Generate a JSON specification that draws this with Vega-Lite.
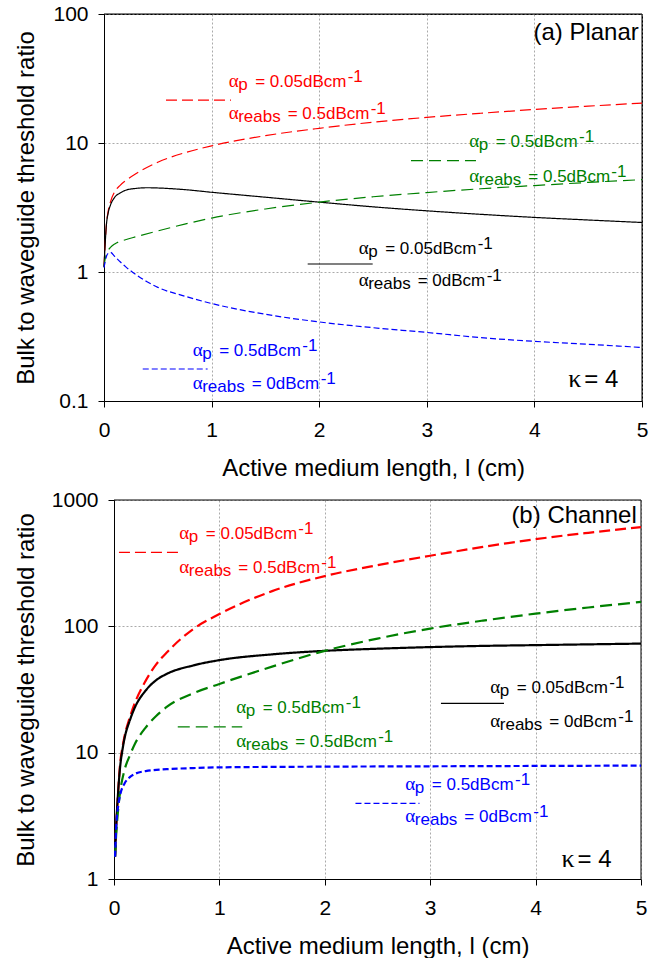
{
  "$schema": "https://vega.github.io/schema/vega-lite/v6.json",
  "background": "white",
  "padding": {"left": 13, "top": 2, "right": 28, "bottom": 0},
  "spacing": 8,
  "config": {
    "view": {"stroke": "black", "strokeWidth": 1},
    "font": "Liberation Sans",
    "axis": {
      "labelFont": "Liberation Sans", "labelFontSize": 21, "labelColor": "black",
      "titleFont": "Liberation Sans", "titleFontSize": 24, "titleFontWeight": "normal", "titleColor": "black",
      "domainColor": "black", "tickColor": "black", "tickSize": 6,
      "gridColor": "#aaaaaa", "gridDash": [2, 2], "gridWidth": 1
    },
    "axisX": {"labelPadding": 12, "titlePadding": 16, "labelFlush": false},
    "axisY": {"labelPadding": 10}
  },
  "datasets": {
    "curves": [
      {"p":"a","s":"red","x":0,"y":1.1},{"p":"a","s":"red","x":0.01,"y":1.6},{"p":"a","s":"red","x":0.02,"y":2.2},{"p":"a","s":"red","x":0.04,"y":3.0},{"p":"a","s":"red","x":0.06,"y":3.5},{"p":"a","s":"red","x":0.1,"y":4.2},{"p":"a","s":"red","x":0.15,"y":4.7},{"p":"a","s":"red","x":0.2,"y":5.1},{"p":"a","s":"red","x":0.3,"y":5.8},{"p":"a","s":"red","x":0.5,"y":7.1},{"p":"a","s":"red","x":0.75,"y":8.4},{"p":"a","s":"red","x":1,"y":9.5},{"p":"a","s":"red","x":1.5,"y":11.4},{"p":"a","s":"red","x":2,"y":13.0},{"p":"a","s":"red","x":2.5,"y":14.5},{"p":"a","s":"red","x":3,"y":15.8},{"p":"a","s":"red","x":3.5,"y":17.0},{"p":"a","s":"red","x":4,"y":18.2},{"p":"a","s":"red","x":4.5,"y":19.3},{"p":"a","s":"red","x":5,"y":20.4},
      {"p":"a","s":"black","x":0,"y":1.1},{"p":"a","s":"black","x":0.01,"y":1.6},{"p":"a","s":"black","x":0.02,"y":2.2},{"p":"a","s":"black","x":0.04,"y":2.9},{"p":"a","s":"black","x":0.06,"y":3.3},{"p":"a","s":"black","x":0.1,"y":3.8},{"p":"a","s":"black","x":0.15,"y":4.1},{"p":"a","s":"black","x":0.2,"y":4.3},{"p":"a","s":"black","x":0.3,"y":4.45},{"p":"a","s":"black","x":0.4,"y":4.5},{"p":"a","s":"black","x":0.5,"y":4.48},{"p":"a","s":"black","x":0.75,"y":4.35},{"p":"a","s":"black","x":1,"y":4.15},{"p":"a","s":"black","x":1.5,"y":3.8},{"p":"a","s":"black","x":2,"y":3.48},{"p":"a","s":"black","x":2.5,"y":3.2},{"p":"a","s":"black","x":3,"y":2.98},{"p":"a","s":"black","x":3.5,"y":2.8},{"p":"a","s":"black","x":4,"y":2.65},{"p":"a","s":"black","x":4.5,"y":2.53},{"p":"a","s":"black","x":5,"y":2.42},
      {"p":"a","s":"green","x":0,"y":1.1},{"p":"a","s":"green","x":0.01,"y":1.25},{"p":"a","s":"green","x":0.02,"y":1.35},{"p":"a","s":"green","x":0.04,"y":1.48},{"p":"a","s":"green","x":0.06,"y":1.55},{"p":"a","s":"green","x":0.1,"y":1.65},{"p":"a","s":"green","x":0.2,"y":1.78},{"p":"a","s":"green","x":0.3,"y":1.88},{"p":"a","s":"green","x":0.5,"y":2.08},{"p":"a","s":"green","x":0.75,"y":2.35},{"p":"a","s":"green","x":1,"y":2.62},{"p":"a","s":"green","x":1.5,"y":3.08},{"p":"a","s":"green","x":2,"y":3.48},{"p":"a","s":"green","x":2.5,"y":3.83},{"p":"a","s":"green","x":3,"y":4.13},{"p":"a","s":"green","x":3.5,"y":4.42},{"p":"a","s":"green","x":4,"y":4.68},{"p":"a","s":"green","x":4.5,"y":4.95},{"p":"a","s":"green","x":5,"y":5.2},
      {"p":"a","s":"blue","x":0,"y":1.08},{"p":"a","s":"blue","x":0.02,"y":1.3},{"p":"a","s":"blue","x":0.04,"y":1.4},{"p":"a","s":"blue","x":0.06,"y":1.42},{"p":"a","s":"blue","x":0.1,"y":1.32},{"p":"a","s":"blue","x":0.15,"y":1.2},{"p":"a","s":"blue","x":0.2,"y":1.1},{"p":"a","s":"blue","x":0.3,"y":0.95},{"p":"a","s":"blue","x":0.4,"y":0.84},{"p":"a","s":"blue","x":0.5,"y":0.76},{"p":"a","s":"blue","x":0.75,"y":0.65},{"p":"a","s":"blue","x":1,"y":0.57},{"p":"a","s":"blue","x":1.5,"y":0.47},{"p":"a","s":"blue","x":2,"y":0.41},{"p":"a","s":"blue","x":2.5,"y":0.37},{"p":"a","s":"blue","x":3,"y":0.34},{"p":"a","s":"blue","x":3.5,"y":0.31},{"p":"a","s":"blue","x":4,"y":0.29},{"p":"a","s":"blue","x":4.5,"y":0.275},{"p":"a","s":"blue","x":5,"y":0.26},
      {"p":"b","s":"red","x":0.01,"y":1.5},{"p":"b","s":"red","x":0.02,"y":2.5},{"p":"b","s":"red","x":0.04,"y":5},{"p":"b","s":"red","x":0.06,"y":8.5},{"p":"b","s":"red","x":0.08,"y":11},{"p":"b","s":"red","x":0.1,"y":13.5},{"p":"b","s":"red","x":0.15,"y":19},{"p":"b","s":"red","x":0.2,"y":25},{"p":"b","s":"red","x":0.3,"y":37},{"p":"b","s":"red","x":0.4,"y":50},{"p":"b","s":"red","x":0.5,"y":62},{"p":"b","s":"red","x":0.75,"y":95},{"p":"b","s":"red","x":1,"y":125},{"p":"b","s":"red","x":1.5,"y":190},{"p":"b","s":"red","x":2,"y":250},{"p":"b","s":"red","x":2.5,"y":305},{"p":"b","s":"red","x":3,"y":362},{"p":"b","s":"red","x":3.5,"y":425},{"p":"b","s":"red","x":4,"y":490},{"p":"b","s":"red","x":4.5,"y":550},{"p":"b","s":"red","x":5,"y":610},
      {"p":"b","s":"black","x":0.01,"y":1.5},{"p":"b","s":"black","x":0.02,"y":2.5},{"p":"b","s":"black","x":0.04,"y":5},{"p":"b","s":"black","x":0.06,"y":8},{"p":"b","s":"black","x":0.08,"y":10.5},{"p":"b","s":"black","x":0.1,"y":13},{"p":"b","s":"black","x":0.15,"y":18},{"p":"b","s":"black","x":0.2,"y":23},{"p":"b","s":"black","x":0.3,"y":31},{"p":"b","s":"black","x":0.4,"y":37.5},{"p":"b","s":"black","x":0.5,"y":42},{"p":"b","s":"black","x":0.75,"y":49},{"p":"b","s":"black","x":1,"y":54},{"p":"b","s":"black","x":1.5,"y":60},{"p":"b","s":"black","x":2,"y":64},{"p":"b","s":"black","x":2.5,"y":66.5},{"p":"b","s":"black","x":3,"y":68.5},{"p":"b","s":"black","x":3.5,"y":70},{"p":"b","s":"black","x":4,"y":71},{"p":"b","s":"black","x":4.5,"y":72},{"p":"b","s":"black","x":5,"y":73},
      {"p":"b","s":"green","x":0.01,"y":1.5},{"p":"b","s":"green","x":0.02,"y":2.2},{"p":"b","s":"green","x":0.04,"y":3.6},{"p":"b","s":"green","x":0.06,"y":5},{"p":"b","s":"green","x":0.1,"y":7.3},{"p":"b","s":"green","x":0.15,"y":9.5},{"p":"b","s":"green","x":0.2,"y":11.8},{"p":"b","s":"green","x":0.3,"y":15.8},{"p":"b","s":"green","x":0.4,"y":19.5},{"p":"b","s":"green","x":0.5,"y":23},{"p":"b","s":"green","x":0.75,"y":29.5},{"p":"b","s":"green","x":1,"y":35},{"p":"b","s":"green","x":1.5,"y":48},{"p":"b","s":"green","x":2,"y":64},{"p":"b","s":"green","x":2.5,"y":80},{"p":"b","s":"green","x":3,"y":96},{"p":"b","s":"green","x":3.5,"y":111},{"p":"b","s":"green","x":4,"y":126},{"p":"b","s":"green","x":4.5,"y":141},{"p":"b","s":"green","x":5,"y":156},
      {"p":"b","s":"blue","x":0.01,"y":1.5},{"p":"b","s":"blue","x":0.02,"y":2.5},{"p":"b","s":"blue","x":0.04,"y":3.8},{"p":"b","s":"blue","x":0.06,"y":4.7},{"p":"b","s":"blue","x":0.1,"y":5.7},{"p":"b","s":"blue","x":0.15,"y":6.4},{"p":"b","s":"blue","x":0.2,"y":6.8},{"p":"b","s":"blue","x":0.3,"y":7.15},{"p":"b","s":"blue","x":0.5,"y":7.4},{"p":"b","s":"blue","x":0.75,"y":7.55},{"p":"b","s":"blue","x":1,"y":7.65},{"p":"b","s":"blue","x":2,"y":7.75},{"p":"b","s":"blue","x":3,"y":7.8},{"p":"b","s":"blue","x":4,"y":7.85},{"p":"b","s":"blue","x":5,"y":7.9}
    ],
    "keys": [
      {"p":"a","s":"red","x":0.576,"x2":1.18,"y":21.5},
      {"p":"a","s":"green","x":2.853,"x2":3.457,"y":7.29},
      {"p":"a","s":"black","x":1.893,"x2":2.497,"y":1.153},
      {"p":"a","s":"blue","x":0.36,"x2":0.963,"y":0.177},
      {"p":"b","s":"red","x":0.047,"x2":0.651,"y":385.5},
      {"p":"b","s":"green","x":0.605,"x2":1.217,"y":16.0},
      {"p":"b","s":"black","x":3.102,"x2":3.7,"y":24.6},
      {"p":"b","s":"blue","x":2.291,"x2":2.898,"y":3.97}
    ],
    "frame": [
      {"p":"a","x":0,"x2":5,"y":100,"y2":100},
      {"p":"a","x":5,"x2":5,"y":0.1,"y2":100},
      {"p":"b","x":0,"x2":5,"y":1000,"y2":1000},
      {"p":"b","x":5,"x2":5,"y":1,"y2":1000}
    ],
    "labels": [
      {"p":"a","s":"red","x":1.159,"y":27.2,"sub":"p","val":"= 0.05dBcm"},
      {"p":"a","s":"red","x":1.159,"y":15.3,"sub":"reabs","val":"= 0.5dBcm"},
      {"p":"a","s":"green","x":3.395,"y":9.27,"sub":"p","val":"= 0.5dBcm"},
      {"p":"a","s":"green","x":3.395,"y":4.95,"sub":"reabs","val":"= 0.5dBcm"},
      {"p":"a","s":"black","x":2.367,"y":1.38,"sub":"p","val":"= 0.05dBcm"},
      {"p":"a","s":"black","x":2.367,"y":0.784,"sub":"reabs","val":"= 0dBcm"},
      {"p":"a","s":"blue","x":0.824,"y":0.2244,"sub":"p","val":"= 0.5dBcm"},
      {"p":"a","s":"blue","x":0.824,"y":0.124,"sub":"reabs","val":"= 0dBcm"},
      {"p":"b","s":"red","x":0.62,"y":488.7,"sub":"p","val":"= 0.05dBcm"},
      {"p":"b","s":"red","x":0.62,"y":263,"sub":"reabs","val":"= 0.5dBcm"},
      {"p":"b","s":"green","x":1.159,"y":20.5,"sub":"p","val":"= 0.5dBcm"},
      {"p":"b","s":"green","x":1.159,"y":11.0,"sub":"reabs","val":"= 0.5dBcm"},
      {"p":"b","s":"black","x":3.57,"y":29.4,"sub":"p","val":"= 0.05dBcm"},
      {"p":"b","s":"black","x":3.57,"y":16.0,"sub":"reabs","val":"= 0dBcm"},
      {"p":"b","s":"blue","x":2.764,"y":5.06,"sub":"p","val":"= 0.5dBcm"},
      {"p":"b","s":"blue","x":2.764,"y":2.84,"sub":"reabs","val":"= 0dBcm"}
    ],
    "notes": [
      {"p":"a","x":4.97,"y":62.8,"t":"(a) Planar","kx":4.78,"ky":0.1285},
      {"p":"b","x":4.96,"y":653,"t":"(b) Channel","kx":4.72,"ky":1.25}
    ]
  },
  "vconcat": [
    {
      "width": 538, "height": 387,
      "encoding": {
        "x": {"field": "x", "type": "quantitative", "scale": {"domain": [0, 5], "nice": false, "zero": false},
              "axis": {"values": [0, 1, 2, 3, 4, 5], "grid": true, "title": "Active medium length, l (cm)"}},
        "y": {"field": "y", "type": "quantitative", "scale": {"type": "log", "domain": [0.1, 100], "nice": false},
              "axis": {"values": [0.1, 1, 10, 100], "format": "~g", "grid": true, "title": "Bulk to waveguide threshold ratio", "titleX": -66}},
        "color": {"field": "s", "type": "nominal", "scale": {"domain": ["red", "green", "black", "blue"], "range": ["#ff0000", "#008000", "#000000", "#0000ff"]}, "legend": null}
      },
      "layer": [
        {"data": {"name": "frame"}, "transform": [{"filter": "datum.p == 'a'"}],
         "mark": {"type": "rule", "strokeWidth": 1},
         "encoding": {"x2": {"field": "x2"}, "y2": {"field": "y2"}, "color": {"value": "black"}}},
        {"data": {"name": "curves"}, "transform": [{"filter": "datum.p == 'a'"}],
         "mark": {"type": "line", "strokeWidth": 1.2, "interpolate": "monotone"},
         "encoding": {"strokeDash": {"field": "s", "type": "nominal", "scale": {"domain": ["red", "green", "black", "blue"], "range": [[11, 5], [12, 6], [1, 0], [6, 3]]}, "legend": null}}},
        {"data": {"name": "keys"}, "transform": [{"filter": "datum.p == 'a'"}],
         "mark": {"type": "rule", "strokeWidth": 1.2},
         "encoding": {"x2": {"field": "x2"}, "strokeDash": {"field": "s", "type": "nominal", "legend": null}}},
        {"data": {"name": "labels"}, "transform": [{"filter": "datum.p == 'a'"}],
         "mark": {"type": "text", "align": "left", "baseline": "alphabetic", "font": "Liberation Serif", "fontSize": 19},
         "encoding": {"text": {"value": "α"}}},
        {"data": {"name": "labels"}, "transform": [{"filter": "datum.p == 'a'"}],
         "mark": {"type": "text", "align": "left", "baseline": "alphabetic", "fontSize": 17, "dx": 9.5, "dy": 3},
         "encoding": {"text": {"field": "sub"}}},
        {"data": {"name": "labels"}, "transform": [{"filter": "datum.p == 'a' && datum.sub == 'p'"}],
         "mark": {"type": "text", "align": "left", "baseline": "alphabetic", "fontSize": 17, "dx": 26.5},
         "encoding": {"text": {"field": "val"}}},
        {"data": {"name": "labels"}, "transform": [{"filter": "datum.p == 'a' && datum.sub == 'reabs'"}],
         "mark": {"type": "text", "align": "left", "baseline": "alphabetic", "fontSize": 17, "dx": 59},
         "encoding": {"text": {"field": "val"}}},
        {"data": {"name": "labels"}, "transform": [{"filter": "datum.p == 'a' && datum.sub == 'p' && datum.val == '= 0.05dBcm'"}],
         "mark": {"type": "text", "align": "left", "baseline": "alphabetic", "fontSize": 17, "dx": 119, "dy": -5},
         "encoding": {"text": {"value": "-1"}}},
        {"data": {"name": "labels"}, "transform": [{"filter": "datum.p == 'a' && datum.sub == 'p' && datum.val == '= 0.5dBcm'"}],
         "mark": {"type": "text", "align": "left", "baseline": "alphabetic", "fontSize": 17, "dx": 109.7, "dy": -5},
         "encoding": {"text": {"value": "-1"}}},
        {"data": {"name": "labels"}, "transform": [{"filter": "datum.p == 'a' && datum.sub == 'reabs' && datum.val == '= 0.5dBcm'"}],
         "mark": {"type": "text", "align": "left", "baseline": "alphabetic", "fontSize": 17, "dx": 142, "dy": -5},
         "encoding": {"text": {"value": "-1"}}},
        {"data": {"name": "labels"}, "transform": [{"filter": "datum.p == 'a' && datum.sub == 'reabs' && datum.val == '= 0dBcm'"}],
         "mark": {"type": "text", "align": "left", "baseline": "alphabetic", "fontSize": 17, "dx": 128, "dy": -5},
         "encoding": {"text": {"value": "-1"}}},
        {"data": {"name": "notes"}, "transform": [{"filter": "datum.p == 'a'"}],
         "mark": {"type": "text", "align": "right", "baseline": "alphabetic", "fontSize": 24},
         "encoding": {"text": {"field": "t"}, "color": {"value": "black"}}},
        {"data": {"name": "notes"}, "transform": [{"filter": "datum.p == 'a'"}],
         "mark": {"type": "text", "align": "right", "baseline": "alphabetic", "fontSize": 24},
         "encoding": {"x": {"field": "kx", "type": "quantitative"}, "y": {"field": "ky", "type": "quantitative"}, "text": {"value": "= 4"}, "color": {"value": "black"}}},
        {"data": {"name": "notes"}, "transform": [{"filter": "datum.p == 'a'"}],
         "mark": {"type": "text", "align": "right", "baseline": "alphabetic", "font": "Liberation Serif", "fontSize": 26, "dx": -37},
         "encoding": {"x": {"field": "kx", "type": "quantitative"}, "y": {"field": "ky", "type": "quantitative"}, "text": {"value": "κ"}, "color": {"value": "black"}}}
      ]
    },
    {
      "width": 537, "height": 379,
      "view": {"stroke": null},
      "encoding": {
        "x": {"field": "x", "type": "quantitative", "scale": {"domain": [0, 5], "nice": false, "zero": false, "range": [10, 537]},
              "axis": {"values": [0, 1, 2, 3, 4, 5], "grid": true, "title": "Active medium length, l (cm)"}},
        "y": {"field": "y", "type": "quantitative", "scale": {"type": "log", "domain": [1, 1000], "nice": false},
              "axis": {"values": [1, 10, 100, 1000], "format": "~g", "grid": true, "offset": -10, "title": "Bulk to waveguide threshold ratio", "titleX": -76}},
        "color": {"field": "s", "type": "nominal", "scale": {"domain": ["red", "green", "black", "blue"], "range": ["#ff0000", "#008000", "#000000", "#0000ff"]}, "legend": null}
      },
      "layer": [
        {"data": {"name": "frame"}, "transform": [{"filter": "datum.p == 'b'"}],
         "mark": {"type": "rule", "strokeWidth": 1},
         "encoding": {"x2": {"field": "x2"}, "y2": {"field": "y2"}, "color": {"value": "black"}}},
        {"data": {"name": "curves"}, "transform": [{"filter": "datum.p == 'b'"}],
         "mark": {"type": "line", "strokeWidth": 2.2, "interpolate": "monotone"},
         "encoding": {"strokeDash": {"field": "s", "type": "nominal", "scale": {"domain": ["red", "green", "black", "blue"], "range": [[12, 6], [18, 6], [1, 0], [7, 3]]}, "legend": null}}},
        {"data": {"name": "keys"}, "transform": [{"filter": "datum.p == 'b'"}],
         "mark": {"type": "rule", "strokeWidth": 1.2},
         "encoding": {"x2": {"field": "x2"}, "strokeDash": {"field": "s", "type": "nominal", "legend": null}}},
        {"data": {"name": "labels"}, "transform": [{"filter": "datum.p == 'b'"}],
         "mark": {"type": "text", "align": "left", "baseline": "alphabetic", "font": "Liberation Serif", "fontSize": 19},
         "encoding": {"text": {"value": "α"}}},
        {"data": {"name": "labels"}, "transform": [{"filter": "datum.p == 'b'"}],
         "mark": {"type": "text", "align": "left", "baseline": "alphabetic", "fontSize": 17, "dx": 9.5, "dy": 3},
         "encoding": {"text": {"field": "sub"}}},
        {"data": {"name": "labels"}, "transform": [{"filter": "datum.p == 'b' && datum.sub == 'p'"}],
         "mark": {"type": "text", "align": "left", "baseline": "alphabetic", "fontSize": 17, "dx": 26.5},
         "encoding": {"text": {"field": "val"}}},
        {"data": {"name": "labels"}, "transform": [{"filter": "datum.p == 'b' && datum.sub == 'reabs'"}],
         "mark": {"type": "text", "align": "left", "baseline": "alphabetic", "fontSize": 17, "dx": 59},
         "encoding": {"text": {"field": "val"}}},
        {"data": {"name": "labels"}, "transform": [{"filter": "datum.p == 'b' && datum.sub == 'p' && datum.val == '= 0.05dBcm'"}],
         "mark": {"type": "text", "align": "left", "baseline": "alphabetic", "fontSize": 17, "dx": 119, "dy": -5},
         "encoding": {"text": {"value": "-1"}}},
        {"data": {"name": "labels"}, "transform": [{"filter": "datum.p == 'b' && datum.sub == 'p' && datum.val == '= 0.5dBcm'"}],
         "mark": {"type": "text", "align": "left", "baseline": "alphabetic", "fontSize": 17, "dx": 109.7, "dy": -5},
         "encoding": {"text": {"value": "-1"}}},
        {"data": {"name": "labels"}, "transform": [{"filter": "datum.p == 'b' && datum.sub == 'reabs' && datum.val == '= 0.5dBcm'"}],
         "mark": {"type": "text", "align": "left", "baseline": "alphabetic", "fontSize": 17, "dx": 142, "dy": -5},
         "encoding": {"text": {"value": "-1"}}},
        {"data": {"name": "labels"}, "transform": [{"filter": "datum.p == 'b' && datum.sub == 'reabs' && datum.val == '= 0dBcm'"}],
         "mark": {"type": "text", "align": "left", "baseline": "alphabetic", "fontSize": 17, "dx": 128, "dy": -5},
         "encoding": {"text": {"value": "-1"}}},
        {"data": {"name": "notes"}, "transform": [{"filter": "datum.p == 'b'"}],
         "mark": {"type": "text", "align": "right", "baseline": "alphabetic", "fontSize": 24},
         "encoding": {"text": {"field": "t"}, "color": {"value": "black"}}},
        {"data": {"name": "notes"}, "transform": [{"filter": "datum.p == 'b'"}],
         "mark": {"type": "text", "align": "right", "baseline": "alphabetic", "fontSize": 24},
         "encoding": {"x": {"field": "kx", "type": "quantitative"}, "y": {"field": "ky", "type": "quantitative"}, "text": {"value": "= 4"}, "color": {"value": "black"}}},
        {"data": {"name": "notes"}, "transform": [{"filter": "datum.p == 'b'"}],
         "mark": {"type": "text", "align": "right", "baseline": "alphabetic", "font": "Liberation Serif", "fontSize": 26, "dx": -37},
         "encoding": {"x": {"field": "kx", "type": "quantitative"}, "y": {"field": "ky", "type": "quantitative"}, "text": {"value": "κ"}, "color": {"value": "black"}}}
      ]
    }
  ]
}
